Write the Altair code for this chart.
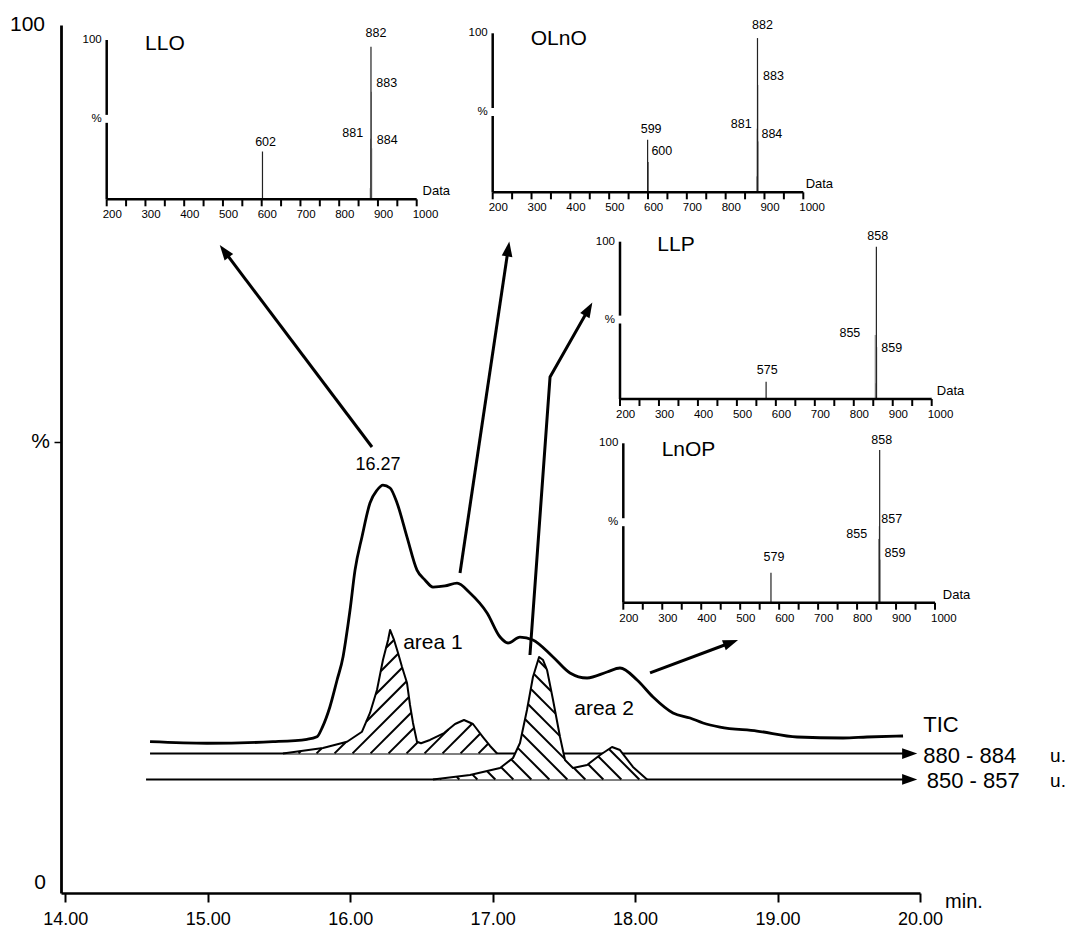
import math
import numpy as np
import pandas as pd
import altair as alt

FONT = "Liberation Sans"

# ---------------- main chromatogram geometry ----------------
W, H = 859, 868
X_DOM = [13.97, 20.0]
Y_DOM = [0, 100]
KX = W / (X_DOM[1] - X_DOM[0])   # px per minute
KY = H / (Y_DOM[1] - Y_DOM[0])   # px per %

x_ticks = [14, 15, 16, 17, 18, 19, 20]

# TIC trace (min, %)
tic_t = [14.595, 14.995, 15.458, 15.697, 15.767, 15.802, 15.858, 15.908, 15.950, 15.969,
         15.999, 16.034, 16.083, 16.139, 16.188, 16.230, 16.280, 16.329, 16.399, 16.469,
         16.525, 16.581, 16.666, 16.750, 16.841, 16.961, 17.052, 17.108, 17.192, 17.283,
         17.424, 17.543, 17.663, 17.803, 17.894, 18.014, 18.126, 18.266, 18.386, 18.477,
         18.596, 18.856, 19.137, 19.460, 19.628, 19.881]
tic_v = [17.43, 17.25, 17.43, 17.71, 18.0, 19.0, 21.46, 24.54, 27.22, 29.15,
         32.6, 37.2, 41.05, 44.93, 46.4, 47.0, 46.66, 44.93, 41.0, 37.2,
         36.06, 35.25, 35.37, 35.7, 34.56, 32.26, 29.49, 28.8, 29.49, 29.15,
         27.19, 25.35, 24.77, 25.46, 25.92, 24.54, 22.58, 20.74, 20.16, 19.59,
         19.12, 18.66, 17.97, 17.86, 17.97, 18.09]

# extracted ion traces: baselines
base_880 = 16.07
base_850 = 13.08
base_880_start = 14.595
base_850_start = 14.567
base_end = 19.92

# area 1 (880-884 u.)
a1_t = [15.528, 15.809, 15.978, 16.083, 16.139, 16.188, 16.230, 16.266, 16.280, 16.308,
        16.336, 16.364, 16.399, 16.420, 16.441, 16.469, 16.497, 16.560, 16.659, 16.736,
        16.799, 16.862, 16.932, 16.982, 17.031]
a1_v = [16.07, 16.71, 17.43, 18.58, 20.74, 23.39, 26.84, 29.15, 30.3, 29.15,
        27.65, 26.04, 24.19, 21.66, 19.59, 17.43, 17.25, 17.63, 18.43, 19.47,
        19.93, 19.47, 17.97, 16.94, 16.07]

# area 2 (850-857 u.)
a2_t = [16.581, 16.841, 17.052, 17.143, 17.192, 17.241, 17.283, 17.326, 17.354, 17.382,
        17.424, 17.473, 17.508, 17.564, 17.663, 17.754, 17.838, 17.894, 17.985, 18.084]
a2_v = [13.08, 13.59, 14.4, 15.55, 17.28, 21.08, 24.88, 27.19, 26.84, 25.69,
        22.24, 17.97, 15.32, 14.4, 14.75, 15.9, 16.82, 16.47, 14.52, 13.08]

# arrows (polylines, last point = head)
arrow_ids = [1, 1, 2, 2, 3, 3, 3, 4, 4]
arrow_t = [16.153, 15.121, 16.771, 17.108, 17.262, 17.403, 17.670, 18.105, 18.666]
arrow_v = [51.38, 73.85, 36.87, 74.08, 27.42, 59.45, 67.17, 25.35, 28.8]

# main annotations
main_lab_text = ["16.27", "area 1", "area 2"]
main_lab_t = [16.195, 16.581, 17.782]
main_lab_v = [49.3, 28.8, 21.16]
main_lab_size = [18, 21, 21]

side_lab_text = ["TIC", "880 - 884", "850 - 857", "u.", "u.", "min."]
side_lab_t = [20.023, 20.023, 20.047, 20.913, 20.913, 20.176]
side_lab_v = [19.35, 15.82, 12.94, 15.82, 12.94, -1.04]
side_lab_size = [22, 22, 22, 19, 19, 20]

y_lab_text = ["100", "%", "0"]
y_lab_v = [100, 52, 1.2]
y_lab_dx = [-16, -11, -15]

# ---------------- inset mass spectra ----------------
insets = [
    dict(name="LLO",
         mz=[602, 880, 881, 882, 883, 884],
         inten=[30, 7, 38, 95.8, 67.5, 32],
         major=[1, 0, 0, 1, 0, 0],
         lab=["602", "882", "883", "881", "884"],
         lab_mz=[610, 895, 922.6, 834.8, 924],
         lab_v=[36.2, 104.6, 72.8, 41.8, 37.2],
         title_mz=299, title_v=97.3, data_mz=1015,
         xr=[45.7, 355.7], yr=[174.3, 15.0]),
    dict(name="OLnO",
         mz=[599, 600, 880, 881, 882, 883, 884],
         inten=[33, 19, 10, 40, 97, 67.5, 32],
         major=[1, 1, 0, 0, 1, 0, 0],
         lab=["599", "600", "882", "883", "881", "884"],
         lab_mz=[608, 635.6, 894.8, 923, 840, 919],
         lab_v=[39.6, 26.2, 105.2, 73.1, 43, 36.7],
         title_mz=298, title_v=96.7, data_mz=1006,
         xr=[431.7, 742.3], yr=[167.3, 8.3]),
    dict(name="LLP",
         mz=[575, 855, 856, 858, 859],
         inten=[11, 40.7, 10, 96.8, 33],
         major=[1, 0, 0, 1, 0],
         lab=["575", "858", "855", "859"],
         lab_mz=[578, 861.4, 790, 897.4],
         lab_v=[18.4, 103.6, 41.8, 32.2],
         title_mz=295.7, title_v=97.9, data_mz=1013,
         xr=[559.0, 870.7], yr=[374.0, 216.7]),
    dict(name="LnOP",
         mz=[579, 855, 856, 857, 858, 859],
         inten=[18.8, 40, 8, 48, 95.8, 27],
         major=[1, 0, 0, 0, 1, 0],
         lab=["579", "858", "857", "855", "859"],
         lab_mz=[586.8, 863.2, 888.9, 799, 897.4],
         lab_v=[28.9, 102, 52.5, 42.9, 31.4],
         title_mz=298.4, title_v=95.5, data_mz=1020,
         xr=[562.3, 874.0], yr=[577.7, 418.3]),
]
inset_ticks = list(range(200, 1001, 50))
inset_labels = list(range(200, 1001, 100))

# ---------------- helpers ----------------
xs = alt.Scale(domain=X_DOM, nice=False, zero=False)
ys = alt.Scale(domain=Y_DOM, nice=False, zero=False)
x_axis = alt.Axis(values=x_ticks, format=".2f", title=None, grid=False,
                  domainColor="black", domainWidth=2.5, tickColor="black",
                  tickWidth=2, tickSize=9, labelFont=FONT, labelFontSize=18,
                  labelColor="black", labelPadding=8, labelFlush=False,
                  labelOverlap=False)
y_axis = alt.Axis(values=[52], labels=False, title=None, grid=False,
                  domainColor="black", domainWidth=2.8, tickColor="black",
                  tickWidth=1.5, tickSize=7)


def MX(f):
    return alt.X(f, type="quantitative", scale=xs, axis=x_axis, title=None)


def MY(f):
    return alt.Y(f, type="quantitative", scale=ys, axis=y_axis, title=None)


def hatch_segments(ts, vs, base, slope, spacing):
    X = np.array(ts) * KX
    Y = np.array(vs) * KY
    Yb = base * KY
    xx = np.arange(X[0], X[-1] + 0.2, 0.2)
    yc = np.interp(xx, X, Y)
    c_lo = min((Yb - slope * xx).min(), (yc - slope * xx).min())
    c_hi = max((Yb - slope * xx).max(), (yc - slope * xx).max())
    segs = []
    c = math.ceil(c_lo / spacing) * spacing
    while c <= c_hi:
        yl = slope * xx + c
        inside = (yl >= Yb) & (yl <= yc)
        idx = np.where(inside)[0]
        if len(idx) > 0:
            br = np.where(np.diff(idx) > 1)[0]
            starts = np.r_[idx[0], idx[br + 1]]
            ends = np.r_[idx[br], idx[-1]]
            for s, e in zip(starts, ends):
                if e - s >= 3:
                    segs.append(dict(t=xx[s] / KX, v=yl[s] / KY,
                                     t2=xx[e] / KX, v2=yl[e] / KY))
        c += spacing
    return segs


# ---------------- main layers ----------------
df_tic = pd.DataFrame(dict(t=tic_t, v=tic_v))
df_base = pd.DataFrame(dict(t=[base_880_start, base_850_start], t2=[base_end, base_end],
                            v=[base_880, base_850]))
df_a1 = pd.DataFrame(dict(t=a1_t, v=a1_v, b=[base_880] * len(a1_t)))
df_a2 = pd.DataFrame(dict(t=a2_t, v=a2_v, b=[base_850] * len(a2_t)))
df_hatch = pd.DataFrame(hatch_segments(a1_t, a1_v, base_880, 1, 18)
                        + hatch_segments(a2_t, a2_v, base_850, -1, 18))

df_arrow = pd.DataFrame(dict(id=arrow_ids, t=arrow_t, v=arrow_v, k=list(range(len(arrow_t)))))
heads = []
for aid in sorted(set(arrow_ids)):
    pts = [(t, v) for i, t, v in zip(arrow_ids, arrow_t, arrow_v) if i == aid]
    (t1, v1), (t2, v2) = pts[-2], pts[-1]
    dx = (t2 - t1) * KX
    dy = -(v2 - v1) * KY
    ang = math.degrees(math.atan2(dx, -dy)) % 360
    heads.append(dict(t=t2, v=v2, ang=ang))
heads.append(dict(t=base_end, v=base_880, ang=90))
heads.append(dict(t=base_end, v=base_850, ang=90))
df_heads = pd.DataFrame(heads)

HEAD = "M0,-1L0.62,0.75L-0.62,0.75Z"

baselines = alt.Chart(df_base).mark_rule(color="black", strokeWidth=2).encode(
    x=MX("t"), x2="t2", y=MY("v"))
fill1 = alt.Chart(df_a1).mark_area(color="white", opacity=1).encode(
    x=MX("t"), y=MY("v"), y2="b")
fill2 = alt.Chart(df_a2).mark_area(color="white", opacity=1).encode(
    x=MX("t"), y=MY("v"), y2="b")
hatch = alt.Chart(df_hatch).mark_rule(color="black", strokeWidth=2).encode(
    x=MX("t"), y=MY("v"), x2="t2", y2="v2")
out1 = alt.Chart(df_a1).mark_line(color="black", strokeWidth=2, strokeJoin="round").encode(
    x=MX("t"), y=MY("v"))
out2 = alt.Chart(df_a2).mark_line(color="black", strokeWidth=2, strokeJoin="round").encode(
    x=MX("t"), y=MY("v"))
tic = alt.Chart(df_tic).mark_line(color="black", strokeWidth=2.8, strokeJoin="round",
                                  interpolate="monotone").encode(x=MX("t"), y=MY("v"))
arrows = alt.Chart(df_arrow).mark_line(color="black", strokeWidth=3).encode(
    x=MX("t"), y=MY("v"), detail="id:N", order="k:Q")
arrowheads = alt.Chart(df_heads).mark_point(shape=HEAD, filled=True, size=300,
                                            color="black", opacity=1).encode(
    x=MX("t"), y=MY("v"), angle=alt.Angle("ang:Q", scale=None))

df_mlab = pd.DataFrame(dict(t=main_lab_t, v=main_lab_v, s=main_lab_size, txt=main_lab_text))
mlab = alt.Chart(df_mlab).mark_text(font=FONT, color="black", align="center",
                                    baseline="middle").encode(
    x=MX("t"), y=MY("v"), text="txt:N", size=alt.Size("s:Q", scale=None))
df_slab = pd.DataFrame(dict(t=side_lab_t, v=side_lab_v, s=side_lab_size, txt=side_lab_text))
slab = alt.Chart(df_slab).mark_text(font=FONT, color="black", align="left",
                                    baseline="middle").encode(
    x=MX("t"), y=MY("v"), text="txt:N", size=alt.Size("s:Q", scale=None))
ylab_layers = []
for txt, v, dx in zip(y_lab_text, y_lab_v, y_lab_dx):
    d = pd.DataFrame(dict(t=[X_DOM[0]], v=[v], txt=[txt]))
    ylab_layers.append(alt.Chart(d).mark_text(font=FONT, fontSize=21, color="black",
                                              align="right", baseline="middle", dx=dx).encode(
        x=MX("t"), y=MY("v"), text="txt:N"))

main = alt.layer(baselines, fill1, fill2, hatch, out1, out2, tic, arrows, arrowheads,
                 mlab, slab, *ylab_layers)


# ---------------- inset builder ----------------
def build_inset(spec):
    sx = alt.Scale(domain=[200, 1000], range=spec["xr"], nice=False, zero=False)
    sy = alt.Scale(domain=[0, 100], range=spec["yr"], nice=False, zero=False)
    ky = (spec["yr"][0] - spec["yr"][1]) / 100.0
    tick_len = 7.0 / ky

    def IX(f):
        return alt.X(f, type="quantitative", scale=sx, axis=None, title=None)

    def IY(f):
        return alt.Y(f, type="quantitative", scale=sy, axis=None, title=None)

    df_pk = pd.DataFrame(dict(mz=spec["mz"], inten=spec["inten"], z=[0] * len(spec["mz"]),
                              major=spec["major"]))
    minor_pk = alt.Chart(df_pk[df_pk.major == 0]).mark_rule(color="#8a8a8a", strokeWidth=1).encode(
        x=IX("mz"), y=IY("z"), y2="inten")
    major_pk = alt.Chart(df_pk[df_pk.major == 1]).mark_rule(color="#222222", strokeWidth=1.2).encode(
        x=IX("mz"), y=IY("z"), y2="inten")

    df_ax = pd.DataFrame(dict(a=[200, 200, 200], b=[1000, 200, 200], c=[0, 0, 53], d=[0, 48, 100]))
    xaxis_line = alt.Chart(df_ax.iloc[[0]]).mark_rule(color="black", strokeWidth=2.5).encode(
        x=IX("a"), x2="b", y=IY("c"))
    yaxis_line = alt.Chart(df_ax.iloc[[1, 2]]).mark_rule(color="black", strokeWidth=2.5).encode(
        x=IX("a"), y=IY("c"), y2="d")
    df_tk = pd.DataFrame(dict(mz=inset_ticks, z=[0] * len(inset_ticks),
                              z2=[-tick_len] * len(inset_ticks)))
    ticks = alt.Chart(df_tk).mark_rule(color="black", strokeWidth=2).encode(
        x=IX("mz"), y=IY("z"), y2="z2")
    df_tl = pd.DataFrame(dict(mz=inset_labels, z=[0] * len(inset_labels),
                              txt=[str(m) for m in inset_labels]))
    tick_labels = alt.Chart(df_tl).mark_text(font=FONT, fontSize=11.5, color="black",
                                             align="left", baseline="middle", dx=-4, dy=16).encode(
        x=IX("mz"), y=IY("z"), text="txt:N")
    df_pl = pd.DataFrame(dict(mz=spec["lab_mz"], v=spec["lab_v"], txt=spec["lab"]))
    peak_labels = alt.Chart(df_pl).mark_text(font=FONT, fontSize=12.5, color="black",
                                             align="center", baseline="middle").encode(
        x=IX("mz"), y=IY("v"), text="txt:N")
    df_title = pd.DataFrame(dict(mz=[spec["title_mz"]], v=[spec["title_v"]], txt=[spec["name"]]))
    title = alt.Chart(df_title).mark_text(font=FONT, fontSize=21, color="black",
                                          align="left", baseline="middle").encode(
        x=IX("mz"), y=IY("v"), text="txt:N")
    df_yl = pd.DataFrame(dict(mz=[200, 200], v=[100, 50.5], txt=["100", "%"]))
    ylabels = alt.Chart(df_yl).mark_text(font=FONT, fontSize=11.5, color="black",
                                         align="right", baseline="middle", dx=-5).encode(
        x=IX("mz"), y=IY("v"), text="txt:N")
    df_data = pd.DataFrame(dict(mz=[spec["data_mz"]], v=[0], txt=["Data"]))
    data_lab = alt.Chart(df_data).mark_text(font=FONT, fontSize=13, color="black",
                                            align="left", baseline="middle", dy=-8).encode(
        x=IX("mz"), y=IY("v"), text="txt:N")
    return alt.layer(minor_pk, major_pk, xaxis_line, yaxis_line, ticks, tick_labels,
                     peak_labels, title, ylabels, data_lab)


inset_layers = [build_inset(s) for s in insets]

chart = alt.layer(main, *inset_layers).resolve_scale(
    x="independent", y="independent"
).properties(
    width=W, height=H,
    autosize=alt.AutoSizeParams(type="none"),
    padding={"left": 53, "top": 17, "right": 148, "bottom": 37},
    background="white",
).configure_view(stroke=None)

chart.save("out.html", embed_options={"renderer": "svg", "actions": False})
